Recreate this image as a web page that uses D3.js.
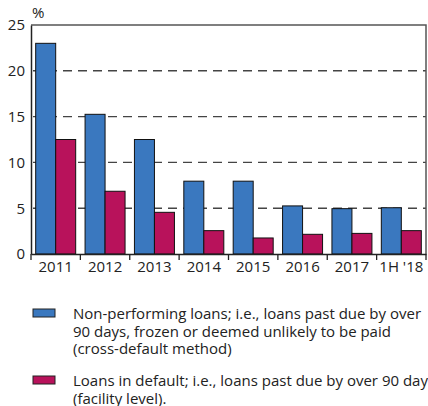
<!DOCTYPE html>
<html><head><meta charset="utf-8">
<script src="https://cdn.jsdelivr.net/npm/d3@7"></script>
<style>body{margin:0;background:#fff}svg{display:block;font-family:"Open Sans",sans-serif}</style>
</head><body><svg id="c" width="428" height="406"></svg>
<script>
const categories = ["2011","2012","2013","2014","2015","2016","2017","1H '18"];
const npl = [23.0, 15.25, 12.5, 7.95, 7.95, 5.25, 4.95, 5.05];
const defaults = [12.5, 6.85, 4.55, 2.55, 1.75, 2.15, 2.25, 2.55];
const yTicks = [0,5,10,15,20,25];
const seriesNames = ["Non-performing loans; i.e., loans past due by over|90 days, frozen or deemed unlikely to be paid|(cross-default method)",
  "Loans in default; i.e., loans past due by over 90 days|(facility level)."];
const colors = ["#3a78bf","#b8125b"];

const svg = d3.select("#c");
const L=31, R=426, T=25, B=254;
const FS=15;
const x = d3.scaleBand().domain(categories).range([L,R]).padding(0);
const bw = x.bandwidth();
const inner = d3.scaleBand().domain([0,1]).range([bw*0.095,bw*0.905]).padding(0);
const y = d3.scaleLinear().domain([0,25]).range([B,T]);

// gridlines
svg.append("g").selectAll("line").data(yTicks.filter(d=>d>0&&d<25)).join("line")
  .attr("x1",L).attr("x2",R).attr("y1",d=>y(d)).attr("y2",d=>y(d))
  .attr("stroke","#444").attr("stroke-width",1.4).attr("stroke-dasharray","9,6").attr("stroke-dashoffset",-2);

// bars
const series=[npl,defaults];
series.forEach((vals,si)=>{
  svg.append("g").selectAll("rect").data(vals).join("rect")
    .attr("x",(d,i)=>x(categories[i])+inner(si))
    .attr("width",inner.bandwidth())
    .attr("y",d=>y(d)).attr("height",d=>B-y(d))
    .attr("fill",colors[si]).attr("stroke","#111").attr("stroke-width",1);
});

// frame top & right
svg.append("path").attr("d",`M${L},${T}H${R}V${B}`).attr("fill","none").attr("stroke","#555").attr("stroke-width",1.5);

// y axis
const ya = svg.append("g").attr("transform",`translate(${L},0)`).call(d3.axisLeft(y).tickValues(yTicks).tickSize(0).tickPadding(6));
ya.select(".domain").attr("stroke","#222").attr("stroke-width",1.5);
ya.selectAll("text").attr("font-size",FS).attr("fill","#222").attr("font-family","Open Sans");

// x axis
const xa = svg.append("g").attr("transform",`translate(0,${B})`).call(d3.axisBottom(x).tickSize(0).tickPadding(7));
xa.select(".domain").attr("stroke","#222").attr("stroke-width",1.5);
xa.selectAll("text").attr("font-size",FS).attr("fill","#222").attr("font-family","Open Sans");
svg.append("g").selectAll("line").data(categories.concat(["end"])).join("line")
  .attr("x1",(d,i)=>i<categories.length?x(d):R).attr("x2",(d,i)=>i<categories.length?x(d):R)
  .attr("y1",B).attr("y2",B+6).attr("stroke","#222").attr("stroke-width",1.3);

svg.append("text").attr("x",32).attr("y",18).attr("font-size",FS).attr("fill","#222").text("%");

// legend
const legY=[309,376];
seriesNames.forEach((n,i)=>{
  svg.append("rect").attr("x",33).attr("y",legY[i]).attr("width",22).attr("height",8)
    .attr("fill",colors[i]).attr("stroke","#222").attr("stroke-width",1);
  const t=svg.append("text").attr("x",73).attr("y",legY[i]+10).attr("font-size",FS).attr("fill","#222");
  n.split("|").forEach((s,j)=>t.append("tspan").attr("x",73).attr("dy",j?17.5:0).text(s));
});
</script></body></html>
